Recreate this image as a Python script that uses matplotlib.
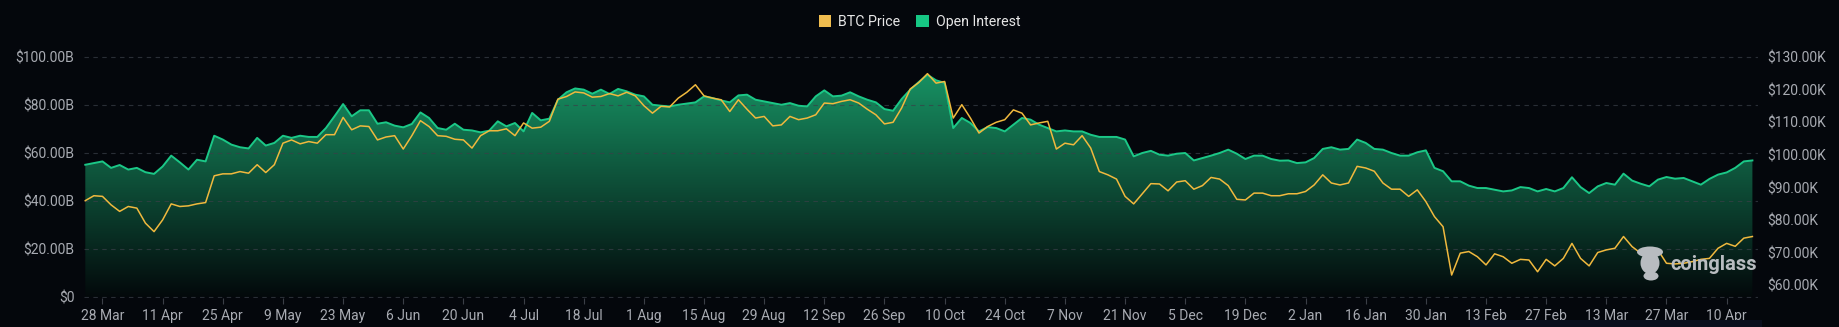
import numpy as np
import pandas as pd
import matplotlib
matplotlib.use('Agg')
import matplotlib.pyplot as plt
import matplotlib.dates as mdates
from matplotlib.patches import Patch, Ellipse, Rectangle
from matplotlib.colors import LinearSegmentedColormap

plt.rcParams['font.family'] = ['Roboto', 'DejaVu Sans']

# one reading every 2 days, from 24 Mar 2025 to 16 Apr 2026
start = '2025-03-24'

# open interest, billions USD
open_interest = [
    55.1, 55.8, 56.5, 53.8, 55.0, 53.1, 53.8, 52.0, 51.3, 54.4,
    58.9, 56.1, 53.1, 57.2, 56.5, 67.2, 65.6, 63.5, 62.4, 61.9,
    66.3, 63.1, 64.2, 67.2, 66.3, 67.2, 66.7, 66.7, 70.4, 75.3,
    80.4, 75.3, 77.8, 77.8, 72.2, 72.8, 71.4, 70.7, 72.1, 76.9,
    74.6, 70.4, 69.7, 72.2, 69.7, 69.4, 68.6, 69.3, 73.2, 71.1,
    72.5, 69.0, 76.7, 73.6, 74.3, 82.2, 85.3, 86.9, 86.4, 84.7,
    86.4, 84.6, 86.7, 85.7, 84.3, 83.6, 80.1, 79.7, 79.4, 80.1,
    80.6, 81.1, 83.6, 82.9, 81.9, 81.1, 84.0, 84.3, 82.2, 81.5,
    80.8, 80.1, 80.8, 79.7, 79.4, 83.6, 86.1, 83.6, 83.9, 85.3,
    83.6, 82.2, 81.1, 78.3, 77.6, 82.5, 86.4, 89.6, 92.6, 90.3,
    89.2, 70.4, 74.6, 72.5, 69.0, 70.8, 70.4, 69.0, 71.8, 74.6,
    73.9, 71.8, 70.4, 69.0, 69.4, 69.0, 69.0, 67.6, 66.7, 66.7,
    66.7, 65.6, 58.6, 60.0, 60.9, 59.3, 58.9, 59.7, 60.0, 56.9,
    57.9, 58.9, 60.0, 61.4, 59.7, 57.5, 58.9, 58.9, 57.5, 56.8,
    56.9, 55.8, 56.1, 57.9, 61.7, 62.4, 61.4, 61.7, 65.6, 64.2,
    61.7, 61.4, 60.0, 58.9, 58.9, 60.3, 61.1, 53.8, 52.4, 48.2,
    48.2, 46.4, 45.4, 45.4, 44.7, 44.0, 44.4, 45.8, 45.4, 44.0,
    45.0, 44.0, 45.4, 49.9, 45.8, 43.3, 46.1, 47.5, 46.8, 51.4,
    48.5, 47.2, 46.1, 48.9, 50.0, 49.3, 49.6, 48.2, 46.8, 49.2,
    51.0, 51.9, 53.8, 56.5, 56.9,
]

# BTC price, thousands USD
btc_price = [
    86.0, 87.5, 87.3, 84.7, 82.7, 84.2, 83.7, 79.1, 76.5, 80.1,
    85.0, 84.2, 84.4, 85.0, 85.4, 93.6, 94.2, 94.2, 94.9, 94.4,
    97.0, 94.6, 97.0, 103.6, 104.6, 103.4, 104.1, 103.6, 106.2, 106.2,
    111.5, 107.7, 108.9, 108.7, 104.6, 105.5, 105.9, 101.8, 105.9, 110.5,
    108.7, 105.9, 105.7, 104.8, 104.6, 102.1, 105.9, 107.4, 107.4, 108.0,
    105.9, 109.8, 108.2, 108.5, 110.3, 117.1, 117.9, 119.3, 119.0, 117.7,
    117.9, 118.8, 118.1, 119.2, 118.1, 115.1, 112.8, 114.9, 114.7, 117.4,
    119.2, 121.5, 118.1, 117.4, 116.9, 113.3, 116.9, 114.0, 111.3, 111.8,
    108.9, 109.2, 111.8, 110.8, 111.3, 112.3, 115.9, 115.7, 116.4, 116.9,
    115.9, 114.0, 112.3, 109.5, 110.0, 114.4, 120.2, 122.2, 124.9, 122.0,
    122.5, 111.3, 115.4, 111.3, 106.7, 108.7, 110.0, 110.8, 113.8, 112.8,
    109.2, 109.8, 110.3, 101.8, 103.6, 103.1, 105.9, 102.1, 94.9, 93.9,
    92.6, 87.3, 85.0, 88.1, 91.2, 91.1, 89.0, 91.7, 92.1, 89.5,
    90.6, 93.1, 92.6, 90.6, 86.4, 86.2, 88.3, 88.3, 87.5, 87.5,
    88.1, 88.1, 88.8, 90.8, 93.9, 91.4, 90.8, 91.4, 96.5, 96.0,
    95.0, 91.4, 89.5, 89.5, 87.3, 89.3, 85.7, 81.1, 78.0, 63.2,
    69.9, 70.4, 68.8, 66.3, 69.7, 68.8, 66.8, 68.0, 67.8, 64.2,
    68.0, 66.0, 68.3, 72.9, 68.3, 66.0, 70.1, 70.9, 71.4, 75.0,
    71.9, 69.9, 69.7, 70.9, 66.8, 66.6, 66.8, 67.3, 68.0, 68.3,
    71.4, 72.9, 72.0, 74.5, 75.0,
]

oi_ticks = [0, 20, 40, 60, 80, 100]
price_ticks = [60, 70, 80, 90, 100, 110, 120, 130]

dates = pd.date_range(start, periods=len(open_interest), freq='2D')
x = mdates.date2num(dates)

bg = '#04070c'
W, H = 1839, 327
fig = plt.figure(figsize=(W / 100, H / 100), dpi=100, facecolor=bg)
ax = fig.add_axes([84 / W, 1 - 298.2 / H, (1758 - 84) / W, (298.2 - 54.6) / H])
ax.set_facecolor(bg)
ax2 = ax.twinx()

# gradient fill under open interest
poly = ax.fill_between(x, open_interest, 0, color='none', lw=0)
cmap = LinearSegmentedColormap.from_list('oi', ['#03090b', '#199b69'])
grad = np.linspace(0, 1, 256).reshape(-1, 1)
img = ax.imshow(grad, extent=[x[0], x[-1] + 1, 0, 100], origin='lower',
                aspect='auto', cmap=cmap, zorder=1)
img.set_clip_path(poly.get_paths()[0], transform=ax.transData)

ax.plot(x, open_interest, color='#1bc887', lw=1.4, zorder=3,
        solid_joinstyle='round')
ax2.plot(x, btc_price, color='#f0b93e', lw=1.1, zorder=3,
         solid_joinstyle='round')

ax.set_xlim(x[0] - 0.3, x[-1] + 1.3)
ax.set_ylim(-0.5, 101)
ax2.set_ylim(56.1, 130.74)

ax.set_yticks(oi_ticks)
ax.set_yticklabels(['$0' if v == 0 else f'${v:.2f}B' for v in oi_ticks])
ax2.set_yticks(price_ticks)
ax2.set_yticklabels([f'${v:.2f}K' for v in price_ticks])

xt = pd.date_range('2025-03-28', '2026-04-10', freq='14D')
ax.set_xticks(mdates.date2num(xt))
ax.set_xticklabels([f'{d.day} {d:%b}' for d in xt])

ax.set_axisbelow(False)
ax.grid(axis='y', color='#3a4048', alpha=0.7, ls=(0, (4, 4)), lw=0.8)
ax.grid(axis='x', visible=False)

for a in (ax, ax2):
    for s in a.spines.values():
        s.set_visible(False)

lab = '#a8abb2'
ax.tick_params(axis='x', colors='#3b3f47', length=4, width=0.8, pad=4,
               labelcolor=lab, labelsize=10)
ax.tick_params(axis='y', length=0, pad=7, labelcolor=lab, labelsize=10)
ax2.tick_params(axis='y', length=0, pad=7, labelcolor=lab, labelsize=10)

fig.legend(handles=[Patch(facecolor='#f0bd4f', label='BTC Price'),
                    Patch(facecolor='#16c784', label='Open Interest')],
           loc='center', bbox_to_anchor=(0.5, 1 - 22 / H), ncol=2, frameon=False,
           fontsize=10.2, labelcolor='#e6e6e6', handlelength=0.9,
           handleheight=0.9, handletextpad=0.5, columnspacing=1.1)

# watermark
wm = '#b8bcc0'
fig.text(1670 / W, 1 - 265 / H, 'coinglass', fontsize=14.5, fontweight='bold',
         color=wm, va='center', ha='left')
for cx, cy, ew, eh in [(1650, 263, 19, 22), (1650, 252, 26, 11), (1651, 276, 15, 9)]:
    fig.add_artist(Ellipse((cx / W, 1 - cy / H), ew / W, eh / H,
                           transform=fig.transFigure, color=wm, lw=0))

fig.add_artist(Rectangle((1470 / W, 0), (1762 - 1470) / W, 7 / H,
                         transform=fig.transFigure, color='#0a0f1d', lw=0))

fig.savefig('out.png', dpi=100, facecolor=bg)
